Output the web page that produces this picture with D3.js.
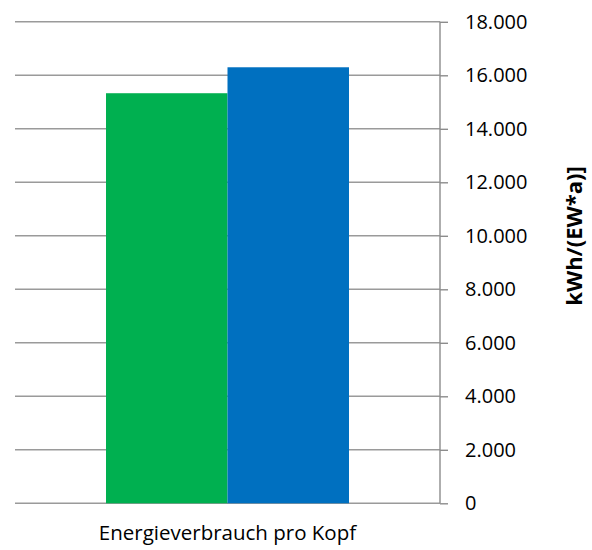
<!DOCTYPE html>
<html>
<head>
<meta charset="utf-8">
<script src="https://cdn.jsdelivr.net/npm/d3@7"></script>
<style>
  html, body { margin: 0; padding: 0; background: #fff; }
  svg { display: block; }
  text { font-family: "Open Sans", "Liberation Sans", sans-serif; fill: #000; }
</style>
</head>
<body>
<svg id="chart" width="592" height="550"></svg>
<script>
const categories = ["Energieverbrauch pro Kopf"];
const seriesNames = ["Serie 1", "Serie 2"];
const seriesColors = ["#00b050", "#0070c0"];
const seriesValues = [[15330], [16300]];
const yTicks = [0, 2000, 4000, 6000, 8000, 10000, 12000, 14000, 16000, 18000];
const yTitle = "kWh/(EW*a)]";

const svg = d3.select("#chart");
const plot = { left: 15, right: 440, top: 21.8, bottom: 503.3 };

const y = d3.scaleLinear().domain([0, 18000]).range([plot.bottom, plot.top]);
const x0 = d3.scaleBand().domain(categories).range([plot.left, plot.right])
  .paddingInner(0).paddingOuter(0.3745);
const x1 = d3.scaleBand().domain(d3.range(seriesNames.length)).range([0, x0.bandwidth()]).padding(0);

const de = d3.formatLocale({ decimal: ",", thousands: ".", grouping: [3], currency: ["", " €"] });
const fmt = de.format(",.0f");

// gridlines
svg.append("g")
  .selectAll("line")
  .data(yTicks)
  .join("line")
  .attr("x1", plot.left)
  .attr("x2", plot.right)
  .attr("y1", d => y(d))
  .attr("y2", d => y(d))
  .attr("stroke", "#9a9a9a")
  .attr("stroke-width", 1.4);

// bars
const groups = svg.append("g")
  .selectAll("g")
  .data(categories)
  .join("g")
  .attr("transform", d => `translate(${x0(d)},0)`);

groups.selectAll("rect")
  .data((d, ci) => seriesValues.map((s, si) => ({ si, v: s[ci] })))
  .join("rect")
  .attr("x", d => x1(d.si))
  .attr("width", x1.bandwidth())
  .attr("y", d => y(d.v))
  .attr("height", d => plot.bottom - y(d.v))
  .attr("fill", d => seriesColors[d.si]);

// right axis
const axis = d3.axisRight(y).tickValues(yTicks).tickFormat(fmt).tickSize(8).tickPadding(17);
const ag = svg.append("g").attr("transform", `translate(${plot.right},0)`).call(axis);
ag.select(".domain").attr("stroke", "#8c8c8c").attr("stroke-width", 1.4).attr("d", `M0,${plot.top}V${plot.bottom}`);
ag.selectAll(".tick line").attr("stroke", "#8c8c8c").attr("stroke-width", 1.4);
ag.selectAll(".tick text").attr("font-size", 20).attr("font-family", '"Open Sans", sans-serif').attr("fill", "#000");

// x label
svg.append("g")
  .selectAll("text")
  .data(categories)
  .join("text")
  .attr("x", d => x0(d) + x0.bandwidth() / 2)
  .attr("y", 540)
  .attr("text-anchor", "middle")
  .attr("font-size", 20.5)
  .text(d => d);

// y title
svg.append("text")
  .attr("transform", "translate(582,236) rotate(-90)")
  .attr("text-anchor", "middle")
  .attr("font-size", 22)
  .attr("font-weight", "bold")
  .text(yTitle);
</script>
</body>
</html>
